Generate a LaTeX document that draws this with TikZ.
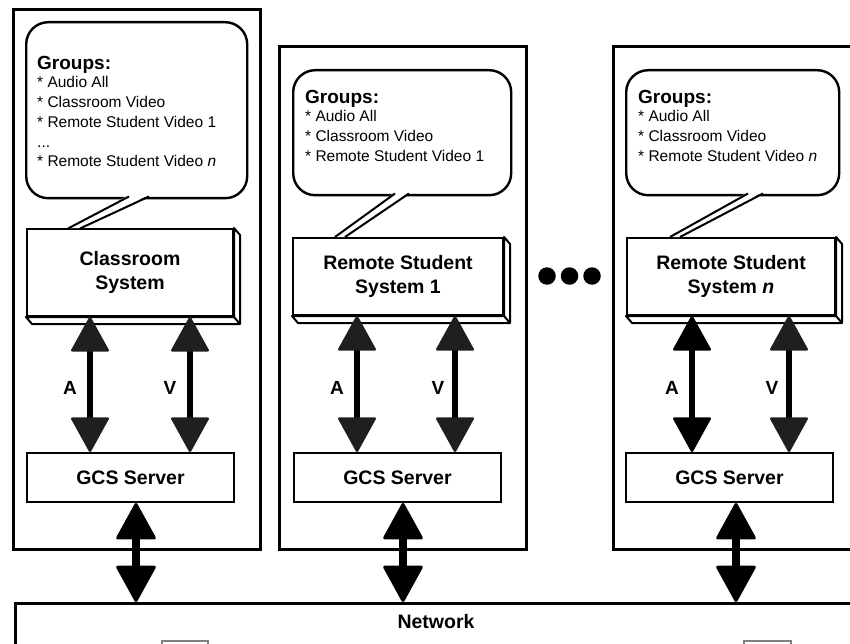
\documentclass[tikz,border=0pt]{standalone}
\usepackage{fontspec}
\setmainfont{Liberation Sans}
\usetikzlibrary{arrows.meta,calc}
\begin{document}
\begin{tikzpicture}[x=1pt,y=-1pt,
  panel/.style={draw, line width=3pt},
  bubble/.style={draw, line width=2.4pt, fill=white, rounded corners=22pt, rectangle, inner sep=0pt, anchor=north west},
  tailline/.style={draw, line width=2pt},
  sysbox/.style={draw, line width=2pt, fill=white, rectangle, inner sep=0pt, align=center, font=\fontsize{19.5}{23.5}\selectfont\bfseries},
  depth/.style={draw, line width=2pt, fill=white, line join=round},
  gcsbox/.style={draw, line width=2pt, fill=white, rectangle, inner sep=0pt, font=\fontsize{19.5}{23}\selectfont\bfseries},
  grouptext/.style={anchor=north west, inner sep=0pt, align=left, font=\fontsize{15.5}{19.8}\selectfont},
  avlabel/.style={inner sep=0pt, font=\fontsize{19}{22}\selectfont\bfseries},
  headgray/.style={line width=5.5pt, {Triangle[width=39pt,length=36pt,line width=2.5pt,round,fill=black!88,color=black!88]}-{Triangle[width=39pt,length=36pt,line width=2.5pt,round,fill=black!88,color=black!88]}},
  headblack/.style={line width=5.5pt, {Triangle[width=39pt,length=36pt,line width=2.5pt,round]}-{Triangle[width=39pt,length=36pt,line width=2.5pt,round]}},
  netarrow/.style={line width=7.5pt, {Triangle[width=41pt,length=38pt,line width=3pt,round]}-{Triangle[width=41pt,length=38pt,line width=3pt,round]}},
  dot/.style={circle, fill=black, inner sep=0pt, minimum size=17.5pt},
]
\useasboundingbox (0,0) rectangle (850,644);
\clip (0,0) rectangle (850,644);
\fill[white] (0,0) rectangle (850,644);

% panels
\draw[panel] (13.5,10) rectangle (260.5,549.5);
\draw[panel] (279.5,47) rectangle (526.5,549.5);
\draw[panel] (613,47) rectangle (880,549.5);

% ---------- panel 1 ----------
\node[bubble, minimum width=221pt, minimum height=176pt] (b1) at (25,21) {};
\node[sysbox, minimum width=206pt, minimum height=87pt] (s1) at (130,272.5) {Classroom\\System};
\draw[depth] (s1.north east) -- ++(6,7) -- ($(s1.south east)+(6,7)$) -- ($(s1.south west)+(6,7)$) -- (s1.south west) -- (s1.south east) -- cycle;
\draw[line width=2pt] (s1.south east) -- ++(6,7);
\fill[white] (129,195) -- (149,195) -- (80,228) -- (68,228) -- cycle;
\draw[tailline] (129,196.5) -- (68,228.5);
\draw[tailline] (149,196.5) -- (80,228.5);
\node[grouptext] (t1) at (37,56) {{\bfseries\fontsize{19}{22}\selectfont Groups:}\\[-1.5pt]* Audio All\\* Classroom Video\\* Remote Student Video 1\\...\\* Remote Student Video \textit{n}};
\node[gcsbox, minimum width=207pt, minimum height=49pt] (g1) at (130.5,477.5) {GCS Server};

% ---------- panel 2 ----------
\node[bubble, minimum width=218pt, minimum height=125pt] (b2) at (292,69) {};
\node[sysbox, minimum width=210pt, minimum height=77pt] (s2) at (398,276.5) {Remote Student\\System 1};
\draw[depth] (s2.north east) -- ++(6,7) -- ($(s2.south east)+(6,7)$) -- ($(s2.south west)+(6,7)$) -- (s2.south west) -- (s2.south east) -- cycle;
\draw[line width=2pt] (s2.south east) -- ++(6,7);
\fill[white] (395,192) -- (409,192) -- (345,237) -- (335,237) -- cycle;
\draw[tailline] (395,193.5) -- (335,237);
\draw[tailline] (409,193.5) -- (345,237);
\node[grouptext] (t2) at (305,90) {{\bfseries\fontsize{19}{22}\selectfont Groups:}\\[-1.5pt]* Audio All\\* Classroom Video\\* Remote Student Video 1};
\node[gcsbox, minimum width=207pt, minimum height=49pt] (g2) at (397.5,477.5) {GCS Server};

% ---------- panel n ----------
\node[bubble, minimum width=213pt, minimum height=125pt] (b3) at (625,69) {};
\node[sysbox, minimum width=208pt, minimum height=77pt] (s3) at (731,276.5) {Remote Student\\System \textit{n}};
\draw[depth] (s3.north east) -- ++(6,7) -- ($(s3.south east)+(6,7)$) -- ($(s3.south west)+(6,7)$) -- (s3.south west) -- (s3.south east) -- cycle;
\draw[line width=2pt] (s3.south east) -- ++(6,7);
\fill[white] (748,192) -- (763,192) -- (680,237) -- (670,237) -- cycle;
\draw[tailline] (748,193.5) -- (670,237);
\draw[tailline] (763,193.5) -- (680,237);
\node[grouptext] (t3) at (638,90) {{\bfseries\fontsize{19}{22}\selectfont Groups:}\\[-1.5pt]* Audio All\\* Classroom Video\\* Remote Student Video \textit{n}};
\node[gcsbox, minimum width=207pt, minimum height=49pt] (g3) at (729.5,477.5) {GCS Server};

% ellipsis dots
\node[dot] (d1) at (547,276) {};
\node[dot] (d2) at (569.5,276) {};
\node[dot] (d3) at (592,276) {};

% network
\node[draw, line width=3pt, rectangle, inner sep=0pt, minimum width=900pt, minimum height=100pt, anchor=north west] (net) at (13.5,602) {};
\node[inner sep=0pt, font=\fontsize{19.5}{23}\selectfont\bfseries] (netlabel) at (436,622) {Network};
\draw[gray, line width=1.5pt] (162,641) rectangle (208,660);
\draw[gray, line width=1.5pt] (744,641) rectangle (791,660);

% arrow x positions
\coordinate (a1) at (90,0);
\coordinate (v1) at (190,0);
\coordinate (a2) at (357,0);
\coordinate (v2) at (455,0);
\coordinate (a3) at (692,0);
\coordinate (v3) at (789,0);
\coordinate (n1) at (136,0);
\coordinate (n2) at (403,0);
\coordinate (n3) at (736,0);

% A/V arrows
\draw[headgray] (s1.south -| a1) -- (g1.north -| a1);
\draw[headgray] (s1.south -| v1) -- (g1.north -| v1);
\draw[headgray] (s2.south -| a2) -- (g2.north -| a2);
\draw[headgray] (s2.south -| v2) -- (g2.north -| v2);
\draw[headblack] (s3.south -| a3) -- (g3.north -| a3);
\draw[headgray] (s3.south -| v3) -- (g3.north -| v3);

\node[avlabel] (la1) at (70,388) {A};
\node[avlabel] (lv1) at (170,388) {V};
\node[avlabel] (la2) at (337,388) {A};
\node[avlabel] (lv2) at (438,388) {V};
\node[avlabel] (la3) at (672,388) {A};
\node[avlabel] (lv3) at (772,388) {V};

% network arrows
\draw[netarrow] (g1.south -| n1) -- (net.north -| n1);
\draw[netarrow] (g2.south -| n2) -- (net.north -| n2);
\draw[netarrow] (g3.south -| n3) -- (net.north -| n3);
\end{tikzpicture}
\end{document}
